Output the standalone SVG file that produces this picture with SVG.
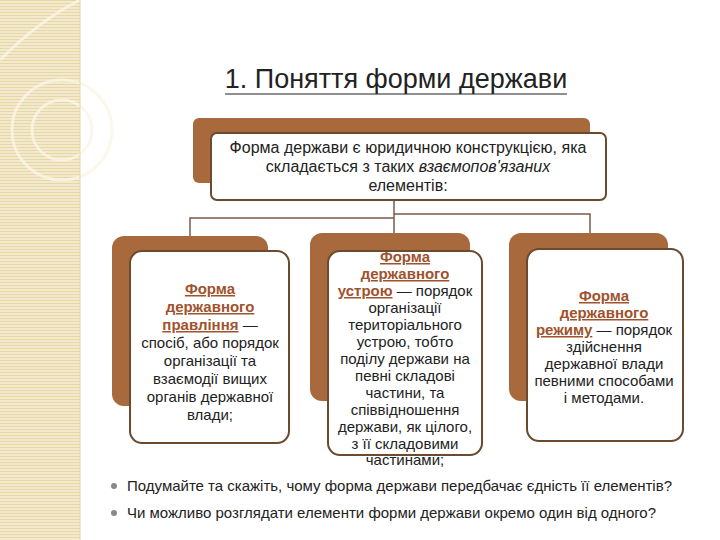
<svg xmlns="http://www.w3.org/2000/svg" width="720" height="540" viewBox="0 0 720 540">
<defs>
<pattern id="st" width="4" height="3" patternUnits="userSpaceOnUse"><rect width="4" height="3" fill="#F3E9CC"/><rect width="4" height="1" fill="#E6D6A8"/></pattern>
</defs>
<style>
.back{fill:#A86A3C}
.front{fill:#fff;stroke:#6B4A2E;stroke-width:2}
.t{font-family:"Liberation Sans",Arial,sans-serif;font-size:15px;fill:#222;text-anchor:middle}
.k{fill:#A0522D;font-weight:bold;text-decoration:underline}
.c{fill:none;stroke:#7A5A4A;stroke-width:1.5}
</style>
<rect x="0" y="0" width="80" height="540" fill="url(#st)"/>
<g fill="none" stroke="#FBF6E6" stroke-width="3" opacity="0.8">
<circle cx="62" cy="130" r="50"/><circle cx="62" cy="130" r="30"/><path d="M0 60 Q40 20 80 0"/>
</g>
<line x1="80" y1="0" x2="80" y2="540" stroke="#E6D6A8"/>
<text x="396" y="88" style="font-family:'Liberation Sans',Arial,sans-serif;font-size:27px;fill:#222;text-anchor:middle">1. Поняття форми держави</text>
<line x1="225" y1="94" x2="567" y2="94" stroke="#222" stroke-width="1.2"/>
<g id="connectors" class="c">
<path d="M394 200 V235"/>
<path d="M394 218 H190 V237"/>
<path d="M394 214 H590 V233"/>
</g>
<g id="top">
<rect class="back" x="193" y="118" width="397" height="65" rx="6"/>
<rect class="front" x="211" y="133" width="395" height="67" rx="6"/>
<text class="t" x="408" y="153" style="font-size:16px">Форма держави є юридичною конструкцією, яка</text>
<text class="t" x="408" y="172" style="font-size:16px">складається з таких <tspan font-style="italic">взаємопов'язаних</tspan></text>
<text class="t" x="408" y="191" style="font-size:16px">елементів:</text>
</g>
<g id="n1">
<rect class="back" x="112" y="236" width="156" height="170" rx="12"/>
<rect class="front" x="130" y="251" width="159" height="192" rx="12"/>
<text class="t" x="210" y="294"><tspan class="k">Форма</tspan></text>
<text class="t" x="210" y="312"><tspan class="k">державного</tspan></text>
<text class="t" x="210" y="330"><tspan class="k">правління</tspan> —</text>
<text class="t" x="210" y="348">спосіб, або порядок</text>
<text class="t" x="210" y="366">організації та</text>
<text class="t" x="210" y="384">взаємодії вищих</text>
<text class="t" x="210" y="402">органів державної</text>
<text class="t" x="210" y="420">влади;</text>
</g>
<g id="n2">
<rect class="back" x="310" y="233" width="160" height="168" rx="12"/>
<rect class="front" x="328" y="251" width="154" height="204" rx="12"/>
<text class="t" x="405" y="262"><tspan class="k">Форма</tspan></text>
<text class="t" x="405" y="279"><tspan class="k">державного</tspan></text>
<text class="t" x="405" y="296"><tspan class="k">устрою</tspan> — порядок</text>
<text class="t" x="405" y="313">організації</text>
<text class="t" x="405" y="330">територіального</text>
<text class="t" x="405" y="347">устрою, тобто</text>
<text class="t" x="405" y="364">поділу держави на</text>
<text class="t" x="405" y="381">певні складові</text>
<text class="t" x="405" y="398">частини, та</text>
<text class="t" x="405" y="415">співвідношення</text>
<text class="t" x="405" y="432">держави, як цілого,</text>
<text class="t" x="405" y="449">з її складовими</text>
<text class="t" x="405" y="465">частинами;</text>
</g>
<g id="n3">
<rect class="back" x="509" y="233" width="159" height="168" rx="12"/>
<rect class="front" x="527" y="249" width="156" height="192" rx="12"/>
<text class="t" x="604" y="301"><tspan class="k">Форма</tspan></text>
<text class="t" x="604" y="318"><tspan class="k">державного</tspan></text>
<text class="t" x="604" y="335"><tspan class="k">режиму</tspan> — порядок</text>
<text class="t" x="604" y="352">здійснення</text>
<text class="t" x="604" y="369">державної влади</text>
<text class="t" x="604" y="386">певними способами</text>
<text class="t" x="604" y="403">і методами.</text>
</g>
<g id="bullets" style="font-family:'Liberation Sans',Arial,sans-serif;font-size:15px;fill:#222">
<circle cx="114" cy="486" r="3" fill="#888"/>
<text x="127" y="491">Подумайте та скажіть, чому форма держави передбачає єдність її елементів?</text>
<circle cx="114" cy="513" r="3" fill="#888"/>
<text x="127" y="518">Чи можливо розглядати елементи форми держави окремо один від одного?</text>
</g>
</svg>
